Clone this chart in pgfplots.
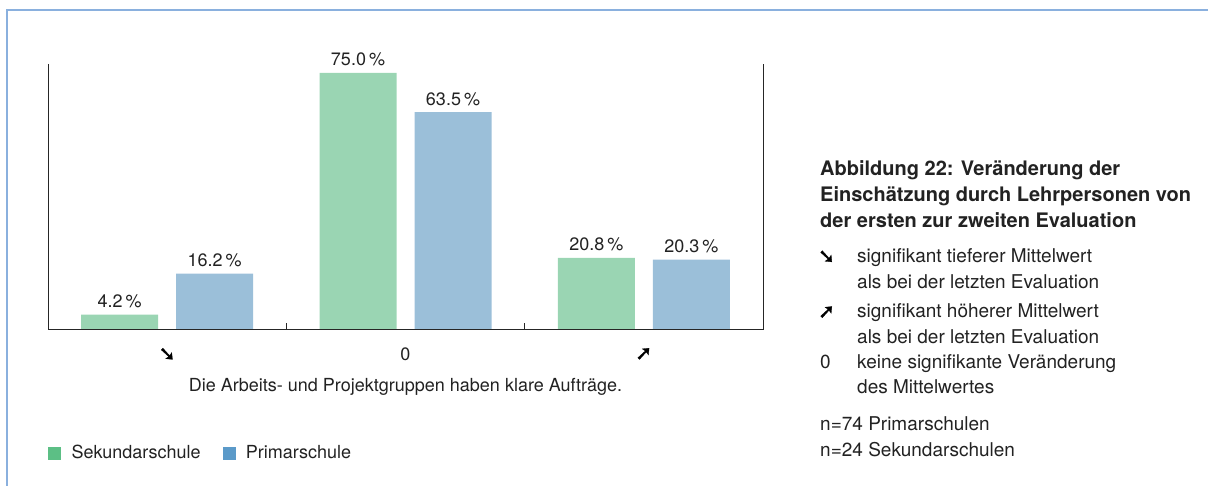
\documentclass[border=0pt]{standalone}
\usepackage{fontspec}
\setmainfont{TeX Gyre Heros}
\newfontfamily\dejavu[FakeBold=1.5]{DejaVu Sans}
\usepackage{pgfplots}
\pgfplotsset{compat=1.18}
\definecolor{barGreen}{HTML}{9AD5B3}
\definecolor{barBlue}{HTML}{9BBFD9}
\definecolor{legGreen}{HTML}{5CBF85}
\definecolor{legBlue}{HTML}{5B9AC9}
\definecolor{frameBlue}{HTML}{8AB0DE}
\definecolor{txt}{HTML}{222222}
\newcommand{\down}{{\color{black}\dejavu\bfseries\fontsize{20}{20}\selectfont ➘}}
\newcommand{\up}{{\color{black}\dejavu\bfseries\fontsize{20}{20}\selectfont ➚}}

\begin{document}
\begin{tikzpicture}[x=1pt,y=1pt,font=\fontsize{18}{21}\selectfont,text=txt]
\useasboundingbox (0,0) rectangle (1208,486);
% frame
\draw[frameBlue, line width=1.3pt] (7,0) -- (7,476) -- (1208,476);

\begin{axis}[
  at={(48pt,157pt)}, anchor=south west,
  scale only axis,
  width=715pt, height=265pt,
  ybar, bar width=77pt,
  xmin=-0.5, xmax=2.5,
  ymin=0, ymax=77.6,
  axis x line*=bottom, axis y line*=left,
  axis line style={draw=none},
  xtick={0,1,2},
  xticklabels={\down,0,\up},
  major tick length=0pt,
  xticklabel style={anchor=north, inner sep=0pt, yshift=-19pt, font=\fontsize{18}{21}\selectfont},
  ytick=\empty,
  xlabel={Die Arbeits- und Projektgruppen haben klare Aufträge.},
  every axis x label/.style={at={(axis description cs:0.5,0)}, anchor=north, inner sep=0pt, yshift=-49pt},
  /pgf/number format/assume math mode=true,
  nodes near coords={\pgfmathprintnumber[fixed,fixed zerofill,precision=1]{\pgfplotspointmeta}\,\%},
  every node near coord/.append style={anchor=south, inner sep=0pt, yshift=6.5pt, font=\fontsize{18}{21}\selectfont},
  legend style={at={(0,-0.468)}, anchor=west, draw=none, fill=none, inner sep=0pt,
    legend columns=2, nodes={inner sep=0pt, anchor=west}, font=\fontsize{18}{21}\selectfont},
  legend cell align=left,
  /tikz/every odd column/.append style={column sep=11pt},
  /tikz/every even column/.append style={column sep=22pt},
  clip=false,
]
\addplot[fill=barGreen, draw=none, bar shift=-47.5pt, forget plot]
  coordinates {(0,4.2) (1,75.0) (2,20.8)};
\addplot[fill=barBlue, draw=none, bar shift=47.5pt, forget plot]
  coordinates {(0,16.2) (1,63.5) (2,20.3)};

% axis frame: left, bottom, right
\draw[black!85, line width=0.9pt]
  (rel axis cs:0,1) -- (rel axis cs:0,0) -- (rel axis cs:1,0) -- (rel axis cs:1,1);
% group separators
\draw[black!85, line width=0.8pt] (axis cs:0.5,0) -- ([yshift=6pt]axis cs:0.5,0);
\draw[black!85, line width=0.8pt] (axis cs:1.5,0) -- ([yshift=6pt]axis cs:1.5,0);

\addlegendimage{legend image code/.code={\fill[legGreen] (0pt,-6pt) rectangle (12pt,6pt);}}
\addlegendentry{Sekundarschule}
\addlegendimage{legend image code/.code={\fill[legBlue] (0pt,-6pt) rectangle (12pt,6pt);}}
\addlegendentry{Primarschule}
\end{axis}

% side notes
\begin{scope}[every node/.style={anchor=base west, inner sep=0pt, font=\fontsize{19}{22}\selectfont}]
\node[font=\fontsize{20}{23}\selectfont\bfseries] at (820,310) {Abbildung 22: Veränderung der};
\node[font=\fontsize{20}{23}\selectfont\bfseries] at (820,284) {Einschätzung durch Lehrpersonen von};
\node[font=\fontsize{20}{23}\selectfont\bfseries] at (820,258) {der ersten zur zweiten Evaluation};
\node at (818,223) {\down};
\node at (857,223) {signifikant tieferer Mittelwert};
\node at (857,197) {als bei der letzten Evaluation};
\node at (818,168) {\up};
\node at (857,168) {signifikant höherer Mittelwert};
\node at (857,142) {als bei der letzten Evaluation};
\node at (820,117) {0};
\node at (857,117) {keine signifikante Veränderung};
\node at (857,92) {des Mittelwertes};
\node at (820,55) {n=74 Primarschulen};
\node at (820,29) {n=24 Sekundarschulen};
\end{scope}
\end{tikzpicture}
\end{document}
